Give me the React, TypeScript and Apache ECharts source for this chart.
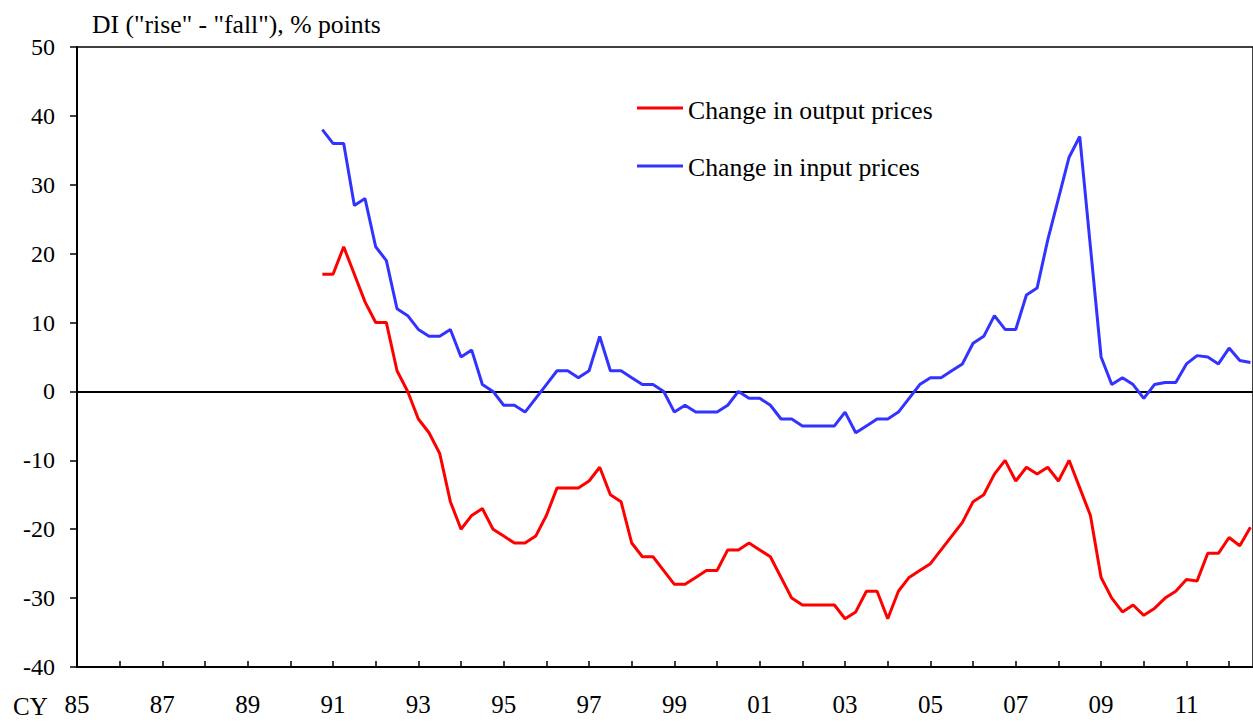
import React, { useEffect, useRef } from "react";
import * as echarts from "echarts";

const START_YEAR = 1990.75;
const QUARTER = 0.25;

const outputPrices = [
  17, 17, 21, 17, 13, 10, 10, 3, 0, -4, -6, -9, -16, -20, -18, -17, -20, -21, -22, -22,
  -21, -18, -14, -14, -14, -13, -11, -15, -16, -22, -24, -24, -26, -28, -28, -27, -26, -26, -23, -23,
  -22, -23, -24, -27, -30, -31, -31, -31, -31, -33, -32, -29, -29, -33, -29, -27, -26, -25, -23, -21,
  -19, -16, -15, -12, -10, -13, -11, -12, -11, -13, -10, -14, -18, -27, -30, -32, -31, -32.5, -31.5, -30,
  -29, -27.3, -27.5, -23.5, -23.5, -21.2, -22.4, -19.7,
];

const inputPrices = [
  38, 36, 36, 27, 28, 21, 19, 12, 11, 9, 8, 8, 9, 5, 6, 1, 0, -2, -2, -3,
  -1, 1, 3, 3, 2, 3, 8, 3, 3, 2, 1, 1, 0, -3, -2, -3, -3, -3, -2, 0,
  -1, -1, -2, -4, -4, -5, -5, -5, -5, -3, -6, -5, -4, -4, -3, -1, 1, 2, 2, 3,
  4, 7, 8, 11, 9, 9, 14, 15, 22, 28, 34, 37, 21, 5, 1, 2, 1, -1, 1, 1.3,
  1.3, 4, 5.2, 5, 4, 6.3, 4.5, 4.2,
];

const seriesNames = ["Change in output prices", "Change in input prices"];
const yTicks = [-40, -30, -20, -10, 0, 10, 20, 30, 40, 50];
const X_MIN = 1985;
const X_MAX = 2012.56;

const FONT = "Liberation Serif";

export default function App() {
  const ref = useRef<HTMLDivElement>(null);

  useEffect(() => {
    if (!ref.current) return;
    const chart = echarts.init(ref.current, undefined, { renderer: "svg" });
    const toPairs = (arr: number[]) => arr.map((v, i) => [START_YEAR + i * QUARTER, v]);

    chart.setOption({
      animation: false,
      backgroundColor: "#ffffff",
      textStyle: { fontFamily: FONT },
      grid: {
        left: 77,
        right: 0,
        top: 47,
        bottom: 55,
        show: true,
        borderColor: "#000000",
        borderWidth: 1.5,
        containLabel: false,
      },
      xAxis: {
        type: "value",
        min: X_MIN,
        max: X_MAX,
        interval: 1,
        axisLine: { show: true, onZero: false, lineStyle: { color: "#000", width: 2 } },
        axisTick: { show: true, inside: true, length: 6, lineStyle: { color: "#000", width: 1.5 } },
        splitLine: { show: false },
        axisLabel: {
          color: "#000",
          fontFamily: FONT,
          fontSize: 25,
          margin: 25,
          showMaxLabel: false,
          formatter: (v: number) => {
            const r = Math.round(v);
            if (Math.abs(v - r) > 1e-6) return "";
            if (r % 2 === 0) return "";
            return String(r % 100).padStart(2, "0");
          },
        },
      },
      yAxis: {
        type: "value",
        min: yTicks[0],
        max: yTicks[yTicks.length - 1],
        interval: 10,
        axisLine: { show: true, lineStyle: { color: "#000", width: 2 } },
        axisTick: { show: true, inside: false, length: 7, lineStyle: { color: "#000", width: 1.5 } },
        splitLine: { show: false },
        axisLabel: {
          color: "#000",
          fontFamily: FONT,
          fontSize: 24,
          margin: 22,
        },
      },
      series: [
        {
          name: seriesNames[0],
          type: "line",
          data: toPairs(outputPrices),
          showSymbol: false,
          symbol: "none",
          lineStyle: { color: "#ff0000", width: 3 },
          itemStyle: { color: "#ff0000" },
          z: 3,
          markLine: {
            silent: true,
            symbol: "none",
            label: { show: false },
            lineStyle: { color: "#000", width: 2, type: "solid" },
            data: [{ yAxis: 0 }],
            z: 1,
          },
        },
        {
          name: seriesNames[1],
          type: "line",
          data: toPairs(inputPrices),
          showSymbol: false,
          symbol: "none",
          lineStyle: { color: "#3333ff", width: 3 },
          itemStyle: { color: "#3333ff" },
          z: 3,
        },
      ],
      graphic: [
        {
          type: "text",
          x: 92,
          y: 24,
          style: {
            text: 'DI ("rise" - "fall"), % points',
            fontFamily: FONT,
            fontSize: 25.7,
            fill: "#000",
            verticalAlign: "middle",
          },
        },
        {
          type: "text",
          x: 13,
          y: 706,
          style: { text: "CY", fontFamily: FONT, fontSize: 25, fill: "#000", verticalAlign: "middle" },
        },
        {
          type: "line",
          shape: { x1: 637, y1: 108, x2: 683, y2: 108 },
          style: { stroke: "#ff0000", lineWidth: 3 },
        },
        {
          type: "text",
          x: 688,
          y: 110,
          style: { text: seriesNames[0], fontFamily: FONT, fontSize: 25.7, fill: "#000", verticalAlign: "middle" },
        },
        {
          type: "line",
          shape: { x1: 637, y1: 166, x2: 683, y2: 166 },
          style: { stroke: "#3333ff", lineWidth: 3 },
        },
        {
          type: "text",
          x: 688,
          y: 167,
          style: { text: seriesNames[1], fontFamily: FONT, fontSize: 25.7, fill: "#000", verticalAlign: "middle" },
        },
      ],
    });

    return () => chart.dispose();
  }, []);

  return (
    <div
      ref={ref}
      style={{ position: "fixed", left: 0, top: 0, width: 1253, height: 722, background: "#fff" }}
    />
  );
}
